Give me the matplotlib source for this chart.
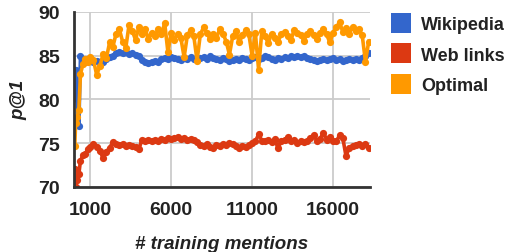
import numpy as np
import matplotlib
matplotlib.use("Agg")
import matplotlib.pyplot as plt
from matplotlib.lines import Line2D

plt.rcParams['font.family'] = ['Liberation Sans', 'DejaVu Sans']

# training mentions (x) and p@1 per source
mentions = [50, 100, 200, 300, 400, 550, 700, 850, 1000] + list(range(1200, 18201, 200))

wikipedia = [80.3, 83.4, 80.0, 77.0, 84.9, 84.6, 84.3, 84.6, 84.5,
             84.3, 84.4, 84.2, 84.3, 84.6, 84.8, 85.0, 85.3, 85.4, 85.3,
             85.4, 85.2, 85.3, 85.1, 84.9, 84.5, 84.3, 84.2, 84.3, 84.4,
             84.3, 84.6, 84.7, 84.6, 84.8, 84.7, 84.6, 84.5, 84.7, 84.6,
             84.8, 84.6, 84.5, 84.7, 84.8, 84.6, 84.9, 84.7, 84.6, 84.5,
             84.7, 84.6, 84.4, 84.5, 84.6, 84.5, 84.7, 84.6, 84.5, 84.7,
             84.8, 84.6, 84.7, 85.0, 84.8, 84.6, 84.5, 84.7, 84.6, 84.8,
             84.7, 84.9, 84.8, 85.0, 84.8, 84.9, 84.7, 84.6, 84.5, 84.4,
             84.5, 84.6, 84.5, 84.6, 84.7, 84.5, 84.6, 84.4, 84.5, 84.6,
             84.5, 84.6, 84.5, 84.7, 84.9, 85.3]

web_links = [72.0, 70.0, 70.8, 71.5, 73.0, 73.6, 73.8, 74.3, 74.6,
             74.9, 74.6, 74.1, 73.3, 74.0, 74.5, 75.1, 74.9, 74.8, 74.9,
             74.7, 74.8, 74.7, 74.6, 74.3, 75.4, 75.3, 75.4, 75.2, 75.4,
             75.3, 75.5, 75.4, 75.6, 75.5, 75.6, 75.7, 75.5, 75.6, 75.4,
             75.5, 75.4, 75.1, 74.8, 74.7, 74.9, 74.6, 74.5, 74.8, 74.7,
             74.9, 74.8, 75.0, 74.9, 74.7, 74.5, 74.7, 74.6, 74.8, 75.0,
             75.2, 76.0, 75.3, 75.2, 75.4, 75.1, 75.5, 74.4, 75.3, 75.4,
             75.7, 75.3, 75.4, 75.0, 75.3, 75.1, 75.2, 75.6, 75.9, 75.3,
             75.5, 76.2, 75.4, 75.7, 75.3, 75.2, 75.9, 75.6, 73.5, 74.5,
             74.7, 74.8, 74.9, 74.7, 74.9, 74.4]

optimal = [74.7, 77.3, 78.0, 78.8, 82.9, 84.0, 84.6, 84.3, 84.8,
           84.5, 82.8, 83.8, 85.2, 84.7, 86.5, 86.0, 87.5, 88.0, 86.6,
           85.9, 88.5, 87.8, 86.8, 88.2, 87.5, 88.0, 86.9, 87.6, 87.2,
           88.0, 87.4, 88.7, 85.4, 87.6, 86.8, 87.5, 87.0, 84.8, 87.3,
           87.9, 87.2, 84.4, 87.4, 88.2, 87.6, 86.9, 87.4, 87.0, 88.0,
           87.5, 86.6, 85.1, 87.2, 87.8, 86.5, 87.3, 87.9, 87.4, 85.0,
           87.6, 83.4, 87.8, 87.2, 86.4, 87.5, 87.0, 86.6, 87.4, 87.7,
           87.2, 86.8, 87.9, 87.6, 87.3, 86.7, 87.5, 87.8, 87.3, 86.9,
           87.6, 88.0, 87.4, 86.5, 87.6, 88.2, 88.8, 87.7, 88.1, 87.4,
           88.3, 87.8, 88.0, 87.3, 84.3, 86.6]

series = [("Wikipedia", wikipedia, "#3366cc"),
          ("Web links", web_links, "#dc3912"),
          ("Optimal", optimal, "#ff9900")]

fig = plt.figure(figsize=(5.13, 2.53), dpi=100)
ax = fig.add_axes([74 / 513, 65 / 253, 296 / 513, 175.3 / 253])

for name, vals, col in series:
    ax.plot(mentions, vals, color=col, lw=2.6, marker="o", markersize=5.2,
            markeredgewidth=0, label=name, zorder=3)

ax.set_xlim(0, 18280)
ax.set_ylim(70, 90)
ax.set_xticks([1000, 6000, 11000, 16000])
ax.set_yticks([70, 75, 80, 85, 90])
ax.grid(True, color="#cccccc", lw=1.3, zorder=0)
ax.set_axisbelow(True)
for s in ["top", "right"]:
    ax.spines[s].set_visible(False)
for s in ["left", "bottom"]:
    ax.spines[s].set_color("#333333")
    ax.spines[s].set_linewidth(2)
    ax.spines[s].set_zorder(5)
ax.tick_params(length=0, labelsize=14, colors="#222222", pad=10)
for lab in ax.get_xticklabels() + ax.get_yticklabels():
    lab.set_fontweight("bold")

ax.set_xlabel("# training mentions", fontsize=13.5, fontweight="bold",
              style="italic", color="#222222", labelpad=12)
ax.set_ylabel("p@1", fontsize=13.5, fontweight="bold", style="italic",
              color="#222222", labelpad=8)

handles = [Line2D([], [], marker="s", linestyle="None", markersize=14.5,
                  markerfacecolor=c, markeredgewidth=0) for _, _, c in series]
leg = fig.legend(handles, [n for n, _, _ in series], loc="upper left",
                 bbox_to_anchor=(385 / 513, 1.0 - 10 / 253), frameon=False,
                 prop={"weight": "bold", "size": 13}, handlelength=1.0,
                 handletextpad=0.6, labelspacing=0.75, borderaxespad=0)
for t in leg.get_texts():
    t.set_color("#222222")

fig.savefig("out.png", dpi=100)
